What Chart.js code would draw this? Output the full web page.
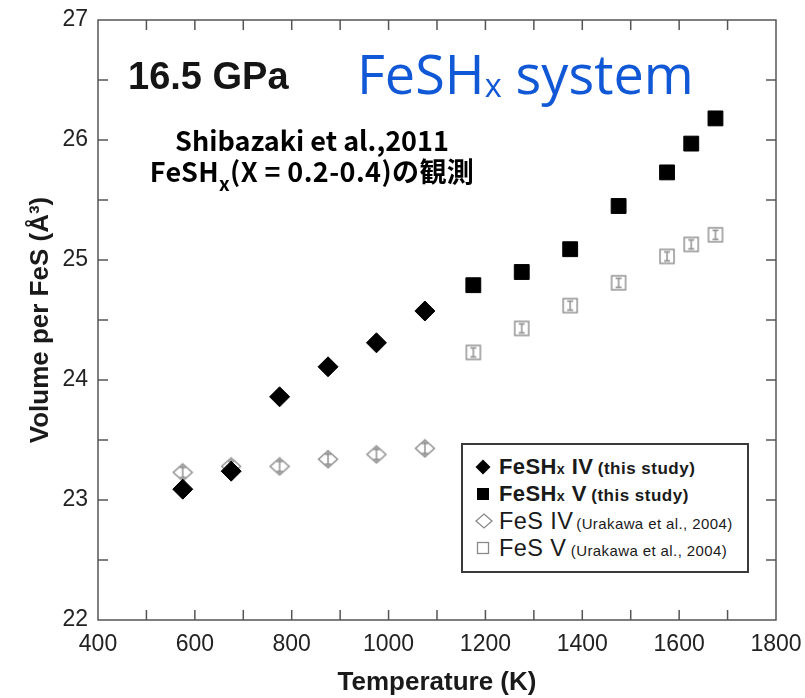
<!DOCTYPE html>
<html><head><meta charset="utf-8">
<script src="https://cdn.jsdelivr.net/npm/chart.js@4.4.1/dist/chart.umd.min.js"></script>
<style>
html,body{margin:0;padding:0;background:#fff;}
#wrap{position:relative;width:805px;height:698px;overflow:hidden;background:#fff;}
#c{position:absolute;left:0;top:0;}
.ov{position:absolute;white-space:nowrap;}
#gpa{left:128px;top:54px;font:bold 38px 'Liberation Sans',Arial,sans-serif;color:#151515;line-height:44px;}
#sys{left:357px;top:38px;font:54px 'Open Sans',sans-serif;color:#1158d6;line-height:70px;}
#sys .s{font-size:60%;position:relative;top:0.08em;}
#cite{left:107px;width:410px;text-align:center;top:124px;font:bold 27px 'Noto Sans CJK JP',sans-serif;color:#000;line-height:31px;}
#cite .l2{letter-spacing:0.4px;}
#cite .s{font-size:70%;position:relative;top:0.5em;}
#legend{position:absolute;left:461px;top:443px;width:288px;height:130px;box-sizing:border-box;border:2px solid #3a3a3a;background:#fff;font-family:'Liberation Sans',Arial,sans-serif;color:#1a1a1a;}
.row{position:absolute;left:0;height:24px;line-height:24px;white-space:nowrap;}
.row svg{position:absolute;left:12px;top:4px;}
.row .t{position:absolute;left:36px;top:0;}
.b1{font-weight:bold;font-size:22px;letter-spacing:0.4px;}
.b2{font-weight:bold;font-size:17px;letter-spacing:0.5px;}
.n1{font-size:23.5px;letter-spacing:0.4px;}
.n2{font-size:15px;letter-spacing:0.4px;}
.gap{margin-left:3px;}
.sub{font-size:65%;}
</style></head><body>
<div id="wrap">
<canvas id="c" width="805" height="698"></canvas>
<div class="ov" id="gpa">16.5 GPa</div>
<div class="ov" id="sys">FeSH<span class="s">x</span> system</div>
<div class="ov" id="cite">Shibazaki et al.,2011<br><span class="l2">FeSH<span class="s">x</span>(X = 0.2-0.4)の観測</span></div>
<div id="legend">
  <div class="row" style="top:10px"><svg width="16" height="16"><path d="M8 0.5 L15.5 8 L8 15.5 L0.5 8 Z" fill="#000"/></svg><span class="t"><span class="b1">FeSH<span class="sub">x</span> IV</span> <span class="b2">(this study)</span></span></div>
  <div class="row" style="top:37px"><svg width="16" height="16"><rect x="2" y="2" width="12" height="12" fill="#000"/></svg><span class="t"><span class="b1">FeSH<span class="sub">x</span> V</span> <span class="b2">(this study)</span></span></div>
  <div class="row" style="top:64px"><svg width="18" height="16"><path d="M9 1 L17 8 L9 15 L1 8 Z" fill="#fff" stroke="#8a8a8a" stroke-width="1.3"/></svg><span class="t"><span class="n1">FeS IV</span><span class="n2 gap">(Urakawa et al., 2004)</span></span></div>
  <div class="row" style="top:91px"><svg width="16" height="16"><rect x="2.5" y="2.5" width="11" height="11" fill="#fff" stroke="#8a8a8a" stroke-width="1.3"/></svg><span class="t"><span class="n1">FeS V</span> <span class="n2">(Urakawa et al., 2004)</span></span></div>
</div>
</div>
<script>
// ---- data ----
const temperaturesIV = [575, 675, 775, 875, 975, 1075];
const temperaturesV = [1175, 1275, 1375, 1475, 1575, 1625, 1675];
const feshxIV = [23.09, 23.24, 23.86, 24.11, 24.31, 24.575];
const feshxV = [24.79, 24.90, 25.09, 25.45, 25.73, 25.97, 26.18];
const fesIV = [23.23, 23.28, 23.28, 23.34, 23.38, 23.43];
const fesV = [24.23, 24.43, 24.62, 24.81, 25.03, 25.13, 25.21];
const xTickLabels = [400, 600, 800, 1000, 1200, 1400, 1600, 1800];
const yTickLabels = [22, 23, 24, 25, 26, 27];
const seriesNames = ['FeSHx IV (this study)', 'FeSHx V (this study)', 'FeS IV (Urakawa et al., 2004)', 'FeS V (Urakawa et al., 2004)'];

function pts(xs, ys){ return xs.map((x,i)=>({x:x, y:ys[i]})); }

function openDiamondMarker(){
  const c=document.createElement('canvas'); c.width=22; c.height=20;
  const g=c.getContext('2d');
  g.strokeStyle='#8c8c8c'; g.lineWidth=1.4; g.fillStyle='#fff';
  g.beginPath(); g.moveTo(11,1.5); g.lineTo(20.5,10); g.lineTo(11,18.5); g.lineTo(1.5,10); g.closePath(); g.fill(); g.stroke();
  g.beginPath(); g.moveTo(11,3); g.lineTo(11,17); g.moveTo(8,5); g.lineTo(14,5); g.moveTo(8,15); g.lineTo(14,15); g.stroke();
  return c;
}
function openSquareMarker(){
  const c=document.createElement('canvas'); c.width=18; c.height=18;
  const g=c.getContext('2d');
  g.strokeStyle='#8c8c8c'; g.lineWidth=1.4; g.fillStyle='#fff';
  g.fillRect(2,2,14,14); g.strokeRect(2,2,14,14);
  g.beginPath(); g.moveTo(9,4); g.lineTo(9,14); g.moveTo(6,4.5); g.lineTo(12,4.5); g.moveTo(6,13.5); g.lineTo(12,13.5); g.stroke();
  return c;
}

const framePlugin = {
  id:'frame',
  beforeDatasetsDraw(chart){
    const {ctx, chartArea:a, scales:{x, y}} = chart;
    ctx.save();
    ctx.strokeStyle='#555'; ctx.lineWidth=1.5;
    ctx.strokeRect(a.left, a.top, a.right-a.left, a.bottom-a.top);
    ctx.beginPath();
    x.ticks.forEach(t=>{
      const px=x.getPixelForValue(t.value);
      if(px<=a.left+1 || px>=a.right-1) return;
      ctx.moveTo(px,a.bottom); ctx.lineTo(px,a.bottom-10);
      ctx.moveTo(px,a.top); ctx.lineTo(px,a.top+10);
    });
    y.ticks.forEach(t=>{
      const py=y.getPixelForValue(t.value);
      if(py<=a.top+1 || py>=a.bottom-1) return;
      ctx.moveTo(a.left,py); ctx.lineTo(a.left+10,py);
      ctx.moveTo(a.right,py); ctx.lineTo(a.right-10,py);
    });
    ctx.stroke();
    ctx.restore();
  }
};

Chart.defaults.font.family = "'Liberation Sans', Arial, sans-serif";
Chart.defaults.color = '#222';

new Chart(document.getElementById('c'), {
  type:'scatter',
  data:{ datasets:[
    {label:seriesNames[0], data:pts(temperaturesIV, feshxIV), pointStyle:'rectRot', pointRadius:10, backgroundColor:'#000', borderColor:'#000', borderWidth:1},
    {label:seriesNames[1], data:pts(temperaturesV, feshxV), pointStyle:'rect', pointRadius:10.5, backgroundColor:'#000', borderColor:'#000', borderWidth:1},
    {label:seriesNames[2], data:pts(temperaturesIV, fesIV), pointStyle:openDiamondMarker(), pointRadius:10},
    {label:seriesNames[3], data:pts(temperaturesV, fesV), pointStyle:openSquareMarker(), pointRadius:9}
  ]},
  options:{
    responsive:false, animation:false, devicePixelRatio:1, events:[],
    layout:{padding:{left:0, right:29, top:20, bottom:0}},
    plugins:{legend:{display:false}, tooltip:{enabled:false}},
    scales:{
      x:{type:'linear', min:400, max:1800,
        afterFit(s){ s.height=78; s.paddingLeft=0; s.paddingRight=0; },
        grid:{display:false, drawTicks:false}, border:{display:false},
        ticks:{stepSize:100, autoSkip:false, maxRotation:0, padding:11, font:{size:23}, color:'#222',
          callback:(v)=> xTickLabels.includes(v) ? String(v) : ''},
        title:{display:true, text:'Temperature (K)', font:{size:26, weight:'bold'}, color:'#1a1a1a', padding:{top:0,bottom:0}}
      },
      y:{type:'linear', min:22, max:27,
        afterFit(s){ s.width=98; s.paddingTop=0; s.paddingBottom=0; },
        grid:{display:false, drawTicks:false}, border:{display:false},
        ticks:{stepSize:0.5, autoSkip:false, padding:10, font:{size:23}, color:'#222',
          callback:(v)=> yTickLabels.includes(v) ? String(v) : ''},
        title:{display:true, text:'Volume per FeS (Å³)', font:{size:26, weight:'bold'}, color:'#1a1a1a', padding:{top:25,bottom:0}}
      }
    }
  },
  plugins:[framePlugin]
});
</script>
</body></html>
